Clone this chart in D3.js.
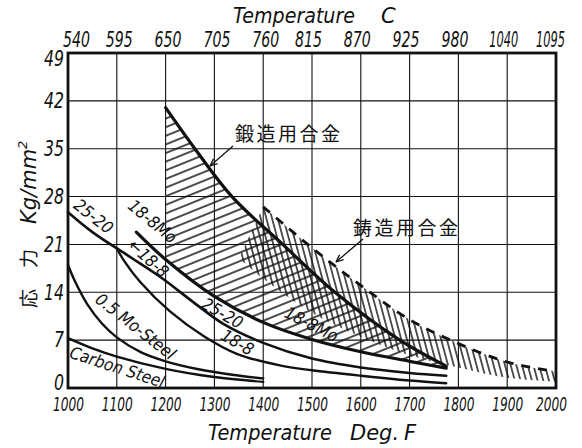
<!DOCTYPE html>
<html>
<head>
<meta charset="utf-8">
<script src="https://cdn.jsdelivr.net/npm/d3@7"></script>
<style>
  body { margin: 0; background: #fff; }
  text { fill: #111; }
  .tick-label { font-family: "DejaVu Sans Condensed", "DejaVu Sans", sans-serif; font-style: italic; }
  .title { font-family: "DejaVu Sans", sans-serif; font-style: italic; font-size: 21px; }
  .curve-label { font-family: "DejaVu Sans Condensed", "DejaVu Sans", sans-serif; font-style: italic; font-size: 17px; }
  .cjk { font-family: "Noto Sans CJK JP", sans-serif; font-size: 19px; }
</style>
</head>
<body>
<svg id="chart" width="582" height="448"></svg>
<script>
// Axis ticks (degrees F along the bottom, matching degrees C along the top)
const tempF = [1000, 1100, 1200, 1300, 1400, 1500, 1600, 1700, 1800, 1900, 2000];
const tempC = ["540", "595", "650", "705", "760", "815", "870", "925", "980", "1040", "1095"];
const stressTicks = [0, 7, 14, 21, 28, 35, 42, 49];

// Rupture-stress curves: [deg F, kg/mm2]
const carbonSteel = [[1000, 7.3], [1050, 5.8], [1100, 4.6], [1200, 2.8], [1300, 1.6], [1400, 0.9]];
const moSteel = [[1000, 18], [1015, 15.5], [1040, 12.2], [1070, 9.4], [1100, 7.4], [1150, 5.2], [1200, 3.9], [1270, 2.7], [1340, 1.9], [1400, 1.4]];
const alloy25_20 = [[1000, 25.7], [1050, 22.8], [1120, 19.5], [1190, 16.2], [1256, 12.6], [1320, 9.3], [1400, 6.6], [1500, 4.3], [1600, 3.0], [1700, 2.2], [1775, 1.8]];
const alloy18_8 = [[1100, 20.4], [1115, 18.6], [1148, 15.5], [1209, 11.2], [1280, 7.5], [1346, 5.0], [1434, 3.3], [1500, 2.6], [1600, 1.8], [1700, 1.1], [1775, 0.7]];
const alloy18_8Mo = [[1140, 22.8], [1200, 18.8], [1300, 13.4], [1400, 9.6], [1500, 7.1], [1600, 5.3], [1700, 3.9], [1775, 2.9]];
const forgedUpper = [[1200, 41], [1260, 35], [1336, 28], [1440, 21], [1547, 14], [1680, 7], [1775, 3.2]];
// Cast alloy band
const castUpper = [[1400, 26.5], [1500, 20.5], [1600, 15], [1700, 10], [1800, 6.5], [1900, 3.8], [2000, 2.4]];
const castLower = [[1350, 19], [1400, 16], [1500, 11], [1600, 7.5], [1700, 4.8], [1800, 3], [1900, 1.5], [2000, 0.9]];

const svg = d3.select("#chart");
const x = d3.scaleLinear().domain([1000, 2000]).range([68, 556]);
const y = d3.scaleLinear().domain([0, 49]).range([388, 53]);

const line = d3.line().x(d => x(d[0])).y(d => y(d[1])).curve(d3.curveCatmullRom.alpha(0.5));

const defs = svg.append("defs");
// diagonal hatching for the forged-alloy band
const pf = defs.append("pattern").attr("id", "hatchForged").attr("patternUnits", "userSpaceOnUse")
  .attr("width", 8).attr("height", 8).attr("patternTransform", "rotate(-22)");
pf.append("line").attr("x1", 0).attr("y1", 4).attr("x2", 8).attr("y2", 4)
  .attr("stroke", "#111").attr("stroke-width", 1.5);
// steep hatching for the cast-alloy band
const pc = defs.append("pattern").attr("id", "hatchCast").attr("patternUnits", "userSpaceOnUse")
  .attr("width", 5.5).attr("height", 10).attr("patternTransform", "rotate(-15)");
pc.append("line").attr("x1", 2.75).attr("y1", 0).attr("x2", 2.75).attr("y2", 10)
  .attr("stroke", "#111").attr("stroke-width", 1.4);
defs.append("clipPath").attr("id", "from1200").append("rect")
  .attr("x", x(1200)).attr("y", 0).attr("width", 600).attr("height", 448);

// grid
const grid = svg.append("g").attr("stroke", "#111").attr("stroke-width", 1.1);
grid.selectAll("line.v").data(tempF).join("line").attr("class", "v")
  .attr("x1", d => x(d)).attr("x2", d => x(d)).attr("y1", y(49)).attr("y2", y(0));
grid.selectAll("line.h").data(stressTicks).join("line").attr("class", "h")
  .attr("x1", x(1000)).attr("x2", x(2000)).attr("y1", d => y(d)).attr("y2", d => y(d));

// bands
const band = (up, lo) => line(up) + "L" + line(lo.slice().reverse()).slice(1) + "Z";
svg.append("path").attr("d", band(castUpper, castLower)).attr("fill", "url(#hatchCast)");
svg.append("path").attr("d", band(forgedUpper, alloy18_8Mo)).attr("fill", "url(#hatchForged)")
  .attr("clip-path", "url(#from1200)");

// cast upper boundary (dashed)
svg.append("path").attr("d", line(castUpper)).attr("fill", "none").attr("stroke", "#111")
  .attr("stroke-width", 2.8).attr("stroke-dasharray", "9,8");

// curves
const curves = [
  { data: carbonSteel, w: 2.4 },
  { data: moSteel, w: 2.4 },
  { data: alloy25_20, w: 2.6 },
  { data: alloy18_8, w: 2.4 },
  { data: alloy18_8Mo, w: 3.2 },
  { data: forgedUpper, w: 3.2 }
];
svg.append("g").selectAll("path").data(curves).join("path")
  .attr("d", d => line(d.data)).attr("fill", "none").attr("stroke", "#111")
  .attr("stroke-width", d => d.w).attr("stroke-linecap", "round");

// frame
svg.append("rect").attr("x", x(1000)).attr("y", y(49)).attr("width", x(2000) - x(1000))
  .attr("height", y(0) - y(49)).attr("fill", "none").attr("stroke", "#111").attr("stroke-width", 2.8);

// axes
const last = tempF.length - 1;
const axisF = svg.append("g").attr("transform", `translate(0,${y(0)})`)
  .call(d3.axisBottom(x).tickValues(tempF).tickFormat(d3.format("d")).tickSize(0).tickPadding(10));
axisF.select(".domain").remove();
axisF.selectAll("text").attr("class", "tick-label").attr("font-size", 19)
  .attr("textLength", 31).attr("lengthAdjust", "spacingAndGlyphs")
  .attr("dx", (d, i) => i === last ? -5 : 0);

const axisC = svg.append("g").attr("transform", `translate(0,${y(49)})`)
  .call(d3.axisTop(x).tickValues(tempF).tickFormat((d, i) => tempC[i]).tickSize(0).tickPadding(6));
axisC.select(".domain").remove();
axisC.selectAll("text").attr("class", "tick-label").attr("font-size", 21)
  .attr("textLength", (d, i) => tempC[i].length > 3 ? 29 : 27).attr("lengthAdjust", "spacingAndGlyphs")
  .attr("dx", (d, i) => i === 0 ? 8 : (i === last ? -6 : (i >= 5 ? -4 : 2)));

const axisS = svg.append("g").attr("transform", `translate(${x(1000)},0)`)
  .call(d3.axisLeft(y).tickValues(stressTicks).tickSize(0).tickPadding(4));
axisS.select(".domain").remove();
axisS.selectAll("text").attr("class", "tick-label").attr("font-size", 21)
  .attr("textLength", d => String(d).length * 10).attr("lengthAdjust", "spacingAndGlyphs")
  .attr("dy", d => d === 49 ? "0.58em" : d === 0 ? "0.05em" : "0.32em");

// titles
svg.append("text").attr("class", "title").attr("x", 208).attr("y", 440)
  .attr("textLength", 124).attr("lengthAdjust", "spacingAndGlyphs").text("Temperature");
svg.append("text").attr("class", "title").attr("x", 350).attr("y", 440).text("Deg.");
svg.append("text").attr("class", "title").attr("x", 404).attr("y", 440).text("F");
svg.append("text").attr("class", "title").attr("font-size", 20).attr("x", 233).attr("y", 23)
  .attr("textLength", 122).attr("lengthAdjust", "spacingAndGlyphs").text("Temperature");
svg.append("text").attr("class", "title").attr("font-size", 20).attr("x", 381).attr("y", 23).text("C");

// vertical stress title
svg.append("text").attr("class", "cjk").attr("font-size", 22)
  .attr("transform", "translate(36,308) rotate(-90)").text("応");
svg.append("text").attr("class", "cjk").attr("font-size", 22)
  .attr("transform", "translate(36,268) rotate(-90)").text("力");
const unit = svg.append("text").attr("class", "title").attr("font-size", 20)
  .attr("transform", "translate(36,224) rotate(-90)");
unit.append("tspan").text("Kg/mm");
unit.append("tspan").attr("font-size", 13).attr("dy", -9).text("2");

// band annotations
svg.append("text").attr("class", "cjk").attr("letter-spacing", 2.5).attr("x", 235).attr("y", 141).text("鍛造用合金");
svg.append("text").attr("class", "cjk").attr("letter-spacing", 2.5).attr("x", 353).attr("y", 235).text("鋳造用合金");
const arrows = [[233, 146, 210, 166], [363, 239, 336, 262]];
svg.append("g").selectAll("g").data(arrows).join("g").each(function (a) {
  const g = d3.select(this);
  g.append("line").attr("x1", a[0]).attr("y1", a[1]).attr("x2", a[2]).attr("y2", a[3])
    .attr("stroke", "#111").attr("stroke-width", 1.3);
  const ang = Math.atan2(a[3] - a[1], a[2] - a[0]);
  const h = 8, s = 0.4;
  g.append("path").attr("d", `M${a[2]},${a[3]} L${a[2] - h * Math.cos(ang - s)},${a[3] - h * Math.sin(ang - s)} M${a[2]},${a[3]} L${a[2] - h * Math.cos(ang + s)},${a[3] - h * Math.sin(ang + s)}`)
    .attr("stroke", "#111").attr("stroke-width", 1.3).attr("fill", "none");
});

// curve labels
const labels = [
  { t: "25-20", cx: 93, cy: 217, r: 38 },
  { t: "18-8Mo", cx: 152, cy: 222, r: 40 },
  { t: "\u219018-8", cx: 148, cy: 259, r: 42 },
  { t: "0.5 Mo-Steel", cx: 135, cy: 327, r: 38 },
  { t: "Carbon Steel", cx: 117, cy: 368, r: 18 },
  { t: "25-20", cx: 222, cy: 314, r: 30 },
  { t: "18-8", cx: 237, cy: 343, r: 30 },
  { t: "18-8Mo", cx: 311, cy: 325, r: 27 }
];
svg.append("g").selectAll("text").data(labels).join("text").attr("class", "curve-label")
  .attr("text-anchor", "middle").attr("dominant-baseline", "middle")
  .attr("transform", d => `translate(${d.cx},${d.cy}) rotate(${d.r})`).text(d => d.t);
</script>
</body>
</html>
